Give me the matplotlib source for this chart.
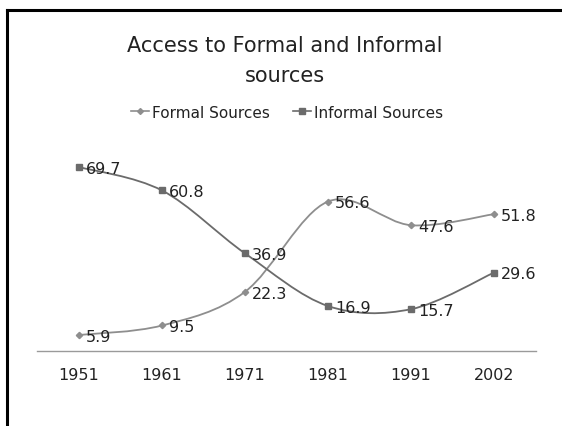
import numpy as np
import matplotlib
matplotlib.use("Agg")
from matplotlib import pyplot as plt
from matplotlib.lines import Line2D
from matplotlib.path import Path
from matplotlib.patches import PathPatch

plt.rcParams['font.family'] = ['DejaVu Sans']

years = ["1951", "1961", "1971", "1981", "1991", "2002"]
formal = [5.9, 9.5, 22.3, 56.6, 47.6, 51.8]
informal = [69.7, 60.8, 36.9, 16.9, 15.7, 29.6]

formal_color = "#8e8e8e"
informal_color = "#6b6b6b"
text_color = "#222222"


def smooth_path(xs, ys):
    # cubic bezier through every point, Catmull-Rom style tangents
    pts = np.column_stack([xs, ys]).astype(float)
    n = len(pts)
    verts = [pts[0]]
    codes = [Path.MOVETO]
    for i in range(n - 1):
        p0 = pts[max(i - 1, 0)]
        p1 = pts[i]
        p2 = pts[i + 1]
        p3 = pts[min(i + 2, n - 1)]
        c1 = p1 + (p2 - p0) / 6.0
        c2 = p2 - (p3 - p1) / 6.0
        verts += [c1, c2, p2]
        codes += [Path.CURVE4] * 3
    return Path(verts, codes)


fig = plt.figure(figsize=(5.62, 4.27), dpi=100)
ax = fig.add_axes([0.0667, 0.1768, 0.8862, 0.4932])

x = np.arange(len(years))
for vals, color, marker, ms in [(formal, formal_color, "D", 3.2),
                                (informal, informal_color, "s", 4.5)]:
    patch = PathPatch(smooth_path(x, vals), facecolor="none",
                      edgecolor=color, lw=1.3, zorder=2)
    ax.add_patch(patch)
    ax.plot(x, vals, ls="none", marker=marker, ms=ms, color=color,
            mec=color, zorder=3)
    for xi, v in zip(x, vals):
        ax.annotate(f"{v}", (xi, v), xytext=(5, -1), textcoords="offset points",
                    ha="left", va="center", fontsize=11.5, color=text_color,
                    zorder=4)

ax.set_xlim(-0.5, len(years) - 0.5)
ax.set_ylim(0, 80)
ax.set_xticks(x)
ax.set_xticklabels(years, fontsize=11.5, color=text_color)
ax.tick_params(axis="x", length=0, pad=12)
ax.set_yticks([])
for side in ["top", "right", "left"]:
    ax.spines[side].set_visible(False)
ax.spines["bottom"].set_color("#9a9a9a")
ax.spines["bottom"].set_linewidth(1.0)

fig.text(0.507, 0.893, "Access to Formal and Informal", ha="center",
         va="center", fontsize=15, color=text_color)
fig.text(0.507, 0.823, "sources", ha="center", va="center", fontsize=15,
         color=text_color)

handles = [Line2D([], [], color=formal_color, marker="D", ms=3, lw=1.2),
           Line2D([], [], color=informal_color, marker="s", ms=4, lw=1.2)]
fig.legend(handles, ["Formal Sources", "Informal Sources"], loc="center",
           bbox_to_anchor=(0.511, 0.735), ncol=2, frameon=False,
           fontsize=11, handlelength=1.2, handletextpad=0.2,
           columnspacing=1.5, labelcolor=text_color)

# outer frame, running off the right and bottom edges
fig.add_artist(Line2D([0.012, 1.0], [0.974, 0.974], color="black", lw=2.2,
                      transform=fig.transFigure))
fig.add_artist(Line2D([0.012, 0.012], [0.0, 0.974], color="black", lw=2.2,
                      transform=fig.transFigure))

fig.savefig("out.png", dpi=100)
